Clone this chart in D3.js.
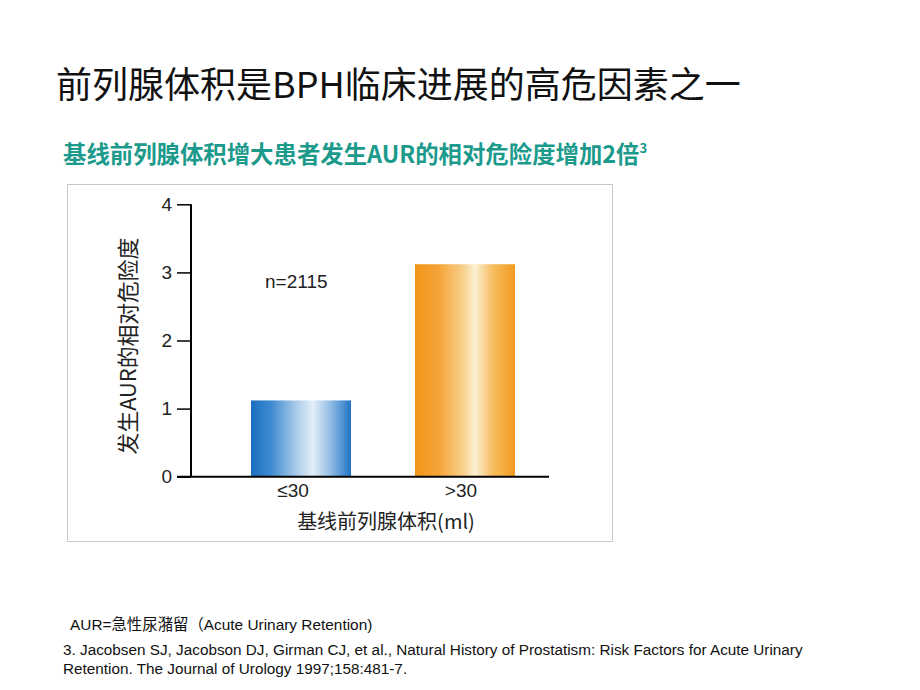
<!DOCTYPE html>
<html><head><meta charset="utf-8">
<script src="https://cdn.jsdelivr.net/npm/d3@7"></script>
<style>
html,body{margin:0;padding:0;background:#fff;}
svg{display:block;}
</style></head>
<body>
<svg id="c" width="920" height="690"></svg>
<script>
const categories = ["≤30", ">30"];
const values = [1.12, 3.12];
const yTicks = [0, 1, 2, 3, 4];
const titleText = "前列腺体积是BPH临床进展的高危因素之一";
const subtitleText = "基线前列腺体积增大患者发生AUR的相对危险度增加2倍";
const yLabel = "发生AUR的相对危险度";
const xLabel = "基线前列腺体积(ml)";
const note = "n=2115";
const footnotes = ["AUR=急性尿潴留（Acute Urinary Retention)",
  "3. Jacobsen SJ, Jacobson DJ, Girman CJ, et al., Natural History of Prostatism: Risk Factors for Acute Urinary",
  "Retention. The Journal of Urology 1997;158:481-7."];

const svg = d3.select("#c");
const cjk = "'Noto Sans CJK SC','Noto Sans',sans-serif";
const sans = "'Liberation Sans',Arial,'Noto Sans CJK SC',sans-serif";

// gradients
const defs = svg.append("defs");
function grad(id, stops){
  const g = defs.append("linearGradient").attr("id", id).attr("x1","0%").attr("x2","100%").attr("y1","0%").attr("y2","0%");
  stops.forEach(s => g.append("stop").attr("offset", s[0]).attr("stop-color", s[1]));
}
grad("gBlue", [["0%","#1a6ec0"],["20%","#3f8bd0"],["45%","#a9cbea"],["62%","#e3eef8"],["80%","#8fbbe3"],["100%","#1f74c4"]]);
grad("gOrange", [["0%","#f29419"],["25%","#f4a63a"],["48%","#f8d08c"],["60%","#fcf0d2"],["78%","#f6bd5e"],["100%","#f29b20"]]);
const fills = ["url(#gBlue)", "url(#gOrange)"];

// title
svg.append("text").attr("x", 56).attr("y", 98).attr("font-family", cjk).attr("font-size", 36)
  .attr("fill", "#111").text(titleText);
const st = svg.append("text").attr("x", 63).attr("y", 163).attr("font-family", cjk).attr("font-size", 23.4)
  .attr("font-weight", "bold").attr("fill", "#1c9a8c").text(subtitleText);
st.append("tspan").attr("dy", -10).attr("font-size", 13).text("3");

// panel
svg.append("rect").attr("x", 67.5).attr("y", 184.5).attr("width", 545).attr("height", 357)
  .attr("fill", "none").attr("stroke", "#c8c8c8").attr("stroke-width", 1);

// scales
const y = d3.scaleLinear().domain([0, 4]).range([476.7, 204.3]);
const x = d3.scaleBand().domain(categories).range([191, 575]).paddingInner(0.39).paddingOuter(0.366);

const g = svg.append("g");
g.selectAll("rect.bar").data(values).join("rect").attr("class","bar")
  .attr("x", (d,i) => x(categories[i])).attr("width", x.bandwidth())
  .attr("y", d => y(d)).attr("height", d => y(0) - y(d))
  .attr("fill", (d,i) => fills[i]);

// y axis
const yAxis = d3.axisLeft(y).tickValues(yTicks).tickSize(14).tickPadding(5).tickFormat(d3.format("d"));
const ya = svg.append("g").attr("transform", "translate(191,0)").call(yAxis);
ya.select(".domain").remove();
ya.append("line").attr("x1", 0).attr("x2", 0).attr("y1", y(4)).attr("y2", y(0)).attr("stroke", "#000").attr("stroke-width", 2);
ya.selectAll(".tick line").attr("stroke", "#000").attr("stroke-width", 1.5);
ya.selectAll(".tick text").attr("font-family", sans).attr("font-size", 19).attr("fill", "#222");

// x axis
const xAxis = d3.axisBottom(x).tickSize(0).tickPadding(7);
const xa = svg.append("g").attr("transform", `translate(0,${y(0)})`).call(xAxis);
xa.select(".domain").remove();
xa.append("line").attr("x1", 177).attr("x2", 549).attr("y1", 0).attr("y2", 0).attr("stroke", "#000").attr("stroke-width", 2);
xa.selectAll(".tick text").attr("font-family", sans).attr("font-size", 19).attr("fill", "#222");
xa.selectAll(".tick").filter((d,i)=>i===0).select("text").attr("dx", -8);
xa.selectAll(".tick").filter((d,i)=>i===1).select("text").attr("dx", -4);

// axis titles
svg.append("text").attr("x", 386).attr("y", 529).attr("text-anchor", "middle")
  .attr("font-family", cjk).attr("font-size", 20).attr("fill", "#222").text(xLabel);
svg.append("text").attr("transform", `translate(136,346) rotate(-90)`).attr("text-anchor", "middle")
  .attr("font-family", cjk).attr("font-size", 21.8).attr("fill", "#222").text(yLabel);

svg.append("text").attr("x", 265).attr("y", 288).attr("font-family", sans).attr("font-size", 19)
  .attr("fill", "#222").text(note);

// footnotes
svg.append("text").attr("x", 70).attr("y", 630).attr("font-family", sans).attr("font-size", 15.4).attr("fill", "#111").text(footnotes[0]);
svg.append("text").attr("x", 63).attr("y", 655).attr("font-family", sans).attr("font-size", 15.3).attr("fill", "#111").text(footnotes[1]);
svg.append("text").attr("x", 63).attr("y", 674).attr("font-family", sans).attr("font-size", 15.3).attr("fill", "#111").text(footnotes[2]);
</script>
</body></html>
